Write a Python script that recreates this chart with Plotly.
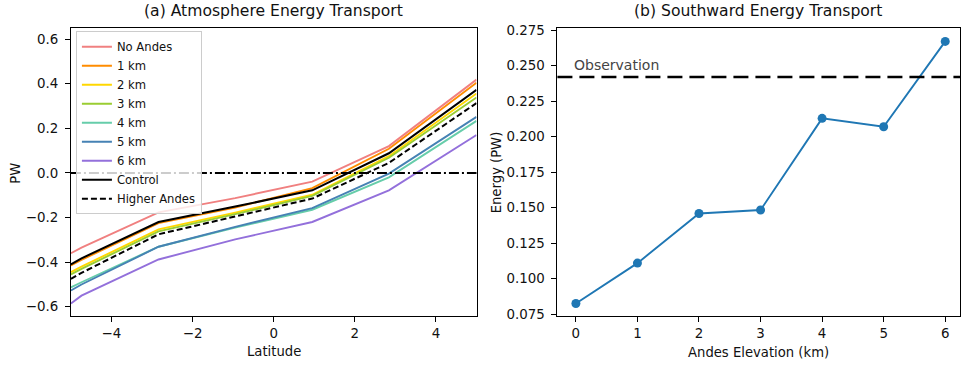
import plotly.graph_objects as go

# ---------------- data ----------------
latitude = [-5.0, -4.74, -2.84, -0.95, 0.95, 2.84, 5.0]

no_andes = [-0.360, -0.335, -0.177, -0.113, -0.039, 0.120, 0.418]
km1 = [-0.415, -0.390, -0.225, -0.155, -0.068, 0.108, 0.404]
km2 = [-0.445, -0.420, -0.253, -0.178, -0.098, 0.075, 0.356]
km3 = [-0.455, -0.430, -0.262, -0.185, -0.103, 0.068, 0.338]
km4 = [-0.513, -0.490, -0.331, -0.245, -0.165, -0.020, 0.233]
km5 = [-0.527, -0.500, -0.331, -0.242, -0.158, -0.003, 0.251]
km6 = [-0.585, -0.550, -0.388, -0.298, -0.220, -0.078, 0.170]
control = [-0.410, -0.383, -0.220, -0.151, -0.078, 0.088, 0.372]
higher_andes = [-0.475, -0.448, -0.275, -0.196, -0.115, 0.045, 0.313]

series_names = ["No Andes", "1 km", "2 km", "3 km", "4 km", "5 km", "6 km"]
series_values = [no_andes, km1, km2, km3, km4, km5, km6]
series_colors = ["#f08080", "#ff8c00", "#ffd700", "#9acd32", "#66cdaa", "#4682b4", "#9370db"]

elevation_km = [0, 1, 2, 3, 4, 5, 6]
southward_energy = [0.0825, 0.1109, 0.1458, 0.1483, 0.2128, 0.2069, 0.2670]
observation = 0.2419

W, H = 961, 366
FONT = "DejaVu Sans"
TXT = "#111"

def px_x(p):
    return p / W

def px_y(p):
    return 1 - p / H

fig = go.Figure()

for name, vals, col in zip(series_names, series_values, series_colors):
    fig.add_trace(go.Scatter(x=latitude, y=vals, mode="lines", name=name,
                             line=dict(color=col, width=1.9), xaxis="x", yaxis="y"))
fig.add_trace(go.Scatter(x=latitude, y=control, mode="lines", name="Control",
                         line=dict(color="black", width=2), xaxis="x", yaxis="y"))
fig.add_trace(go.Scatter(x=latitude, y=higher_andes, mode="lines", name="Higher Andes",
                         line=dict(color="black", width=2, dash="6px,3px"), xaxis="x", yaxis="y"))

fig.add_trace(go.Scatter(x=elevation_km, y=southward_energy, mode="lines+markers",
                         line=dict(color="#1f77b4", width=1.9),
                         marker=dict(color="#1f77b4", size=9),
                         showlegend=False, xaxis="x2", yaxis="y2"))

ydom = [px_y(320), px_y(23)]
axis_common = dict(showline=True, mirror=True, linecolor="black", linewidth=1,
                   ticks="outside", ticklen=5, tickcolor="black", showgrid=False,
                   zeroline=False, tickfont=dict(family=FONT, size=13.4, color=TXT))

fig.update_layout(
    width=W, height=H,
    margin=dict(l=0, r=0, t=0, b=0),
    paper_bgcolor="white", plot_bgcolor="white",
    font=dict(family=FONT, color=TXT),
    xaxis=dict(domain=[px_x(71), px_x(477)], range=[-5, 5], dtick=2, tick0=0,
               anchor="y", **axis_common),
    yaxis=dict(domain=ydom, range=[-0.643, 0.648], dtick=0.2, tick0=0, tickformat=".1f",
               anchor="x", ticklabelstandoff=4, **axis_common),
    xaxis2=dict(domain=[px_x(558), 1.0], range=[-0.3, 6.24], dtick=1, tick0=0,
                anchor="y2", **axis_common),
    yaxis2=dict(domain=ydom, range=[0.0734, 0.2762], dtick=0.025, tick0=0.075, tickformat=".3f",
                anchor="x2", ticklabelstandoff=4, **axis_common),
    showlegend=True,
    legend=dict(x=px_x(76), y=px_y(26), xanchor="left", yanchor="top",
                bgcolor="rgba(255,255,255,0.8)", bordercolor="#cccccc", borderwidth=1,
                font=dict(family=FONT, size=11.6, color=TXT), tracegroupgap=0),
)

# reference lines
fig.add_shape(type="line", xref="x domain", yref="y", x0=0, x1=1, y0=0, y1=0,
              line=dict(color="black", width=2, dash="10px,3px,2px,3px"), layer="above")
fig.add_shape(type="line", xref="x2 domain", yref="y2", x0=0, x1=1, y0=observation, y1=observation,
              line=dict(color="black", width=2.5, dash="15px,7px"), layer="above")

annotations = [
    dict(text="(a) Atmosphere Energy Transport", x=px_x(274), y=px_y(5), xref="paper", yref="paper",
         showarrow=False, font=dict(family=FONT, size=15.6, color=TXT), xanchor="center", yanchor="middle"),
    dict(text="(b) Southward Energy Transport", x=px_x(759), y=px_y(5), xref="paper", yref="paper",
         showarrow=False, font=dict(family=FONT, size=15.6, color=TXT), xanchor="center", yanchor="middle"),
    dict(text="Latitude", x=px_x(274), y=px_y(356), xref="paper", yref="paper",
         showarrow=False, font=dict(family=FONT, size=13.2, color=TXT), xanchor="center", yanchor="middle"),
    dict(text="PW", x=px_x(16), y=px_y(172), xref="paper", yref="paper", textangle=-90,
         showarrow=False, font=dict(family=FONT, size=13.2, color=TXT), xanchor="center", yanchor="middle"),
    dict(text="Energy (PW)", x=px_x(497), y=px_y(171), xref="paper", yref="paper", textangle=-90,
         showarrow=False, font=dict(family=FONT, size=13.2, color=TXT), xanchor="center", yanchor="middle"),
    dict(text="Andes Elevation (km)", x=px_x(759), y=px_y(357), xref="paper", yref="paper",
         showarrow=False, font=dict(family=FONT, size=13.2, color=TXT), xanchor="center", yanchor="middle"),
    dict(text="Observation", x=-0.06, y=0.2505, xref="x2", yref="y2",
         showarrow=False, font=dict(family=FONT, size=14, color="#444"), xanchor="left", yanchor="middle"),
]
fig.update_layout(annotations=annotations)

fig.write_html("out.html")
